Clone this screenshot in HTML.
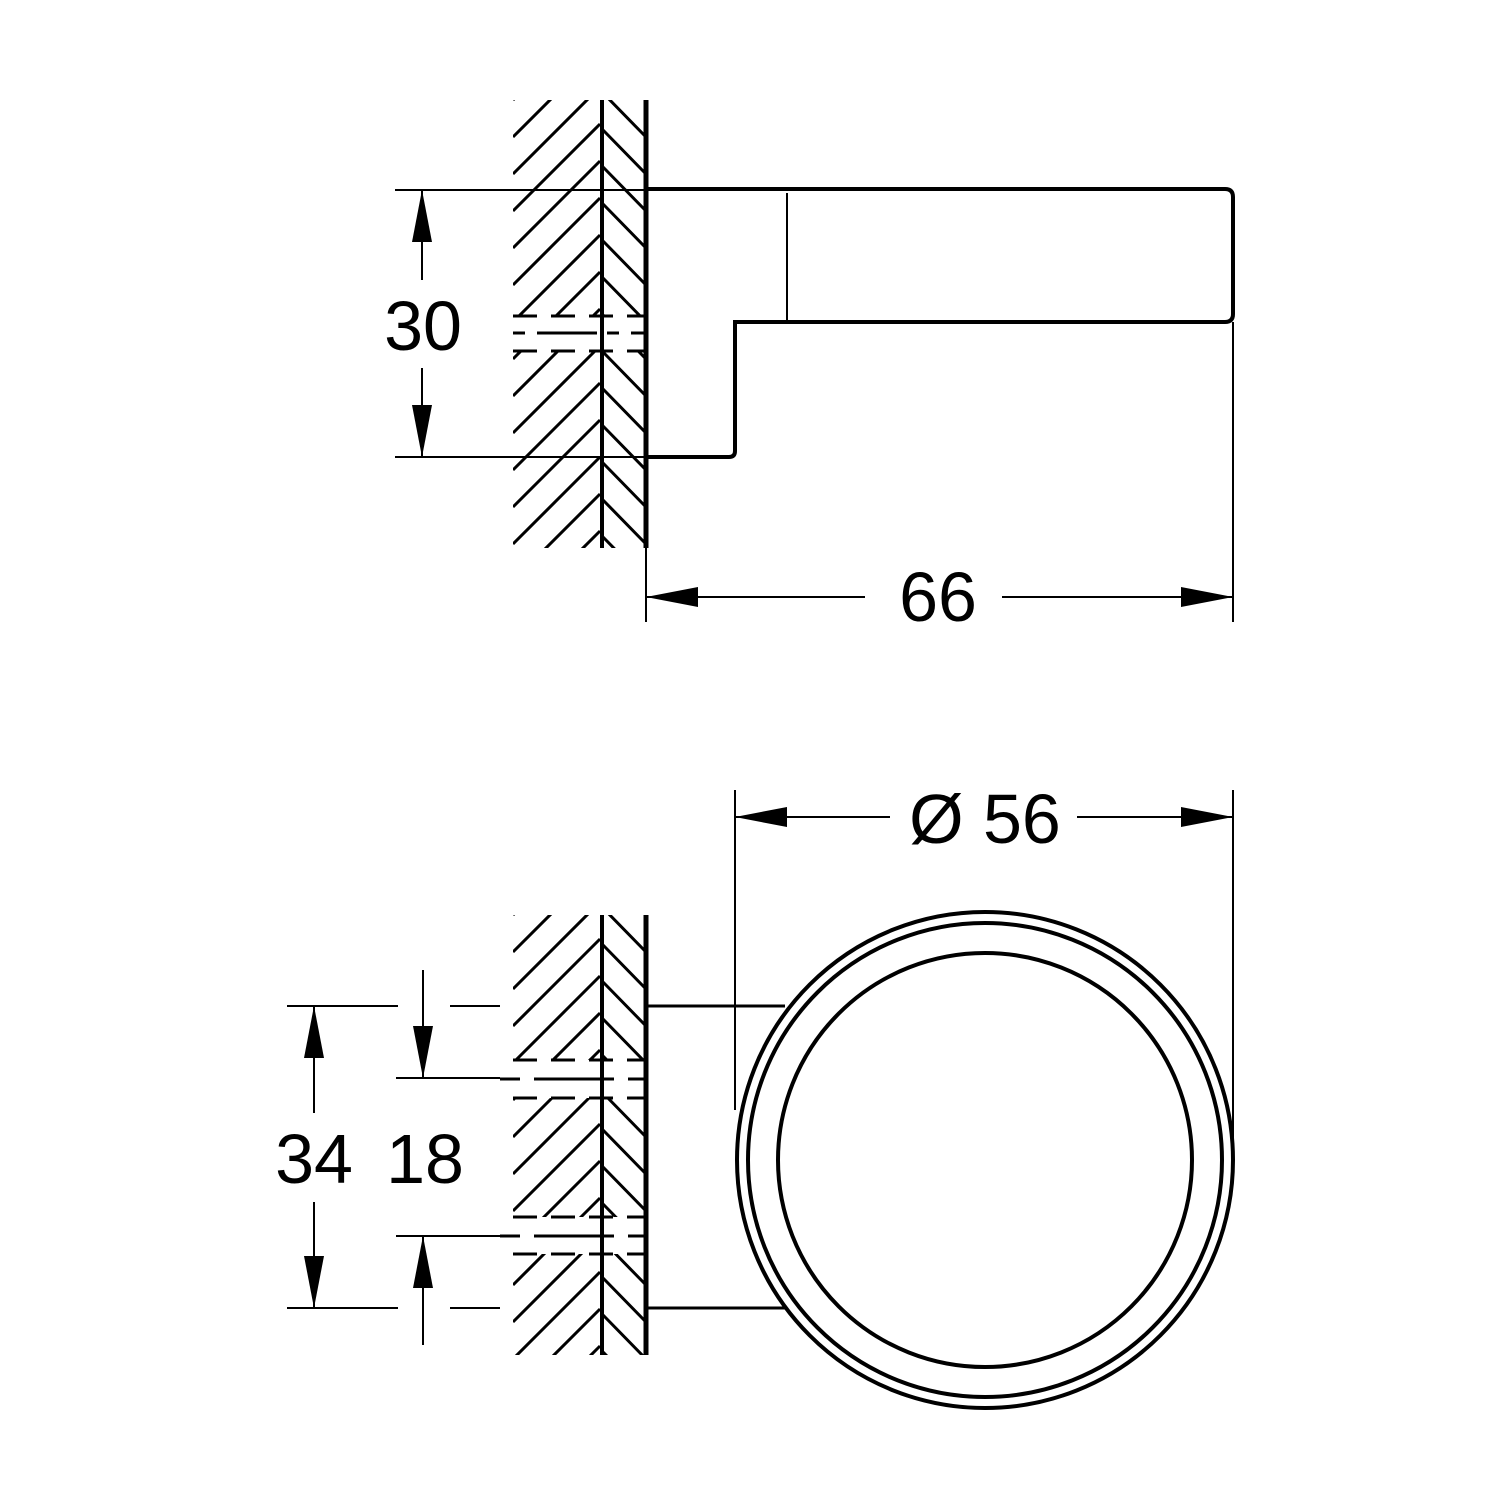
<!DOCTYPE html>
<html><head><meta charset="utf-8"><style>html,body{margin:0;padding:0;background:#fff}svg{display:block}</style></head>
<body>
<svg width="1500" height="1500" viewBox="0 0 1500 1500" xmlns="http://www.w3.org/2000/svg" xmlns:xlink="http://www.w3.org/1999/xlink">
<defs>
<clipPath id="c1">
<rect x="513" y="100" width="87" height="216"/><rect x="513" y="351" width="87" height="197"/>
<rect x="603" y="100" width="43" height="216"/><rect x="603" y="351" width="43" height="197"/>
</clipPath>
<clipPath id="c2">
<rect x="513" y="915" width="87" height="145"/><rect x="513" y="1098" width="87" height="119"/><rect x="513" y="1254" width="87" height="101"/>
<rect x="603" y="915" width="43" height="145"/><rect x="603" y="1098" width="43" height="119"/><rect x="603" y="1254" width="43" height="101"/>
</clipPath>
<g id="hatch" stroke="#000" stroke-width="3" fill="none">
<line x1="513" y1="100" x2="600" y2="13"/><line x1="513" y1="137" x2="600" y2="50"/><line x1="513" y1="174" x2="600" y2="87"/>
<line x1="513" y1="211" x2="600" y2="124"/><line x1="513" y1="248" x2="600" y2="161"/><line x1="513" y1="285" x2="600" y2="198"/>
<line x1="513" y1="322" x2="600" y2="235"/><line x1="513" y1="359" x2="600" y2="272"/><line x1="513" y1="396" x2="600" y2="309"/>
<line x1="513" y1="433" x2="600" y2="346"/><line x1="513" y1="470" x2="600" y2="383"/><line x1="513" y1="507" x2="600" y2="420"/>
<line x1="513" y1="544" x2="600" y2="457"/><line x1="513" y1="581" x2="600" y2="494"/><line x1="513" y1="618" x2="600" y2="531"/>
<line x1="513" y1="655" x2="600" y2="568"/>
<line x1="603" y1="56" x2="646" y2="100"/><line x1="603" y1="93" x2="646" y2="137"/><line x1="603" y1="130" x2="646" y2="174"/>
<line x1="603" y1="167" x2="646" y2="211"/><line x1="603" y1="204" x2="646" y2="248"/><line x1="603" y1="241" x2="646" y2="285"/>
<line x1="603" y1="278" x2="646" y2="322"/><line x1="603" y1="315" x2="646" y2="359"/><line x1="603" y1="352" x2="646" y2="396"/>
<line x1="603" y1="389" x2="646" y2="433"/><line x1="603" y1="426" x2="646" y2="470"/><line x1="603" y1="463" x2="646" y2="507"/>
<line x1="603" y1="500" x2="646" y2="544"/><line x1="603" y1="537" x2="646" y2="581"/>
</g>
<g id="ar"><polygon points="0,0 -10,52 10,52" fill="#000"/></g>
</defs>
<g clip-path="url(#c1)"><use href="#hatch" xlink:href="#hatch"/></g>
<g clip-path="url(#c2)"><use href="#hatch" xlink:href="#hatch" transform="translate(0,815)"/></g>
<g fill="none" stroke="#000" stroke-width="3">
<line x1="602" y1="100" x2="602" y2="548" stroke-width="4"/>
<line x1="646" y1="100" x2="646" y2="548" stroke-width="5"/>
<g stroke-dasharray="24,14"><line x1="513" y1="316" x2="646" y2="316"/><line x1="513" y1="333" x2="646" y2="333" stroke-dasharray="12,12,60,10"/><line x1="513" y1="351" x2="646" y2="351"/></g>
<path d="M646 189 H1225 Q1233 189 1233 197 V314 Q1233 322 1225 322 H735 V451 Q735 457 729 457 H646" stroke-width="4"/>
<line x1="787" y1="193" x2="787" y2="322" stroke-width="2"/>
<line x1="395" y1="190" x2="646" y2="190" stroke-width="2"/>
<line x1="395" y1="457" x2="646" y2="457" stroke-width="2"/>
<line x1="422" y1="190" x2="422" y2="280" stroke-width="2"/>
<line x1="422" y1="368" x2="422" y2="457" stroke-width="2"/>
<line x1="646" y1="548" x2="646" y2="622" stroke-width="2"/>
<line x1="1233" y1="322" x2="1233" y2="622" stroke-width="2"/>
<line x1="646" y1="597" x2="865" y2="597" stroke-width="2"/>
<line x1="1002" y1="597" x2="1233" y2="597" stroke-width="2"/>
<line x1="602" y1="915" x2="602" y2="1355" stroke-width="4"/>
<line x1="646" y1="915" x2="646" y2="1355" stroke-width="5"/>
<g stroke-dasharray="24,14"><line x1="513" y1="1060" x2="646" y2="1060"/><line x1="513" y1="1098" x2="646" y2="1098"/><line x1="513" y1="1217" x2="646" y2="1217"/><line x1="513" y1="1254" x2="646" y2="1254"/></g>
<g stroke-dasharray="20,14,80,14"><line x1="500" y1="1079" x2="646" y2="1079"/><line x1="500" y1="1236" x2="646" y2="1236"/></g>
<line x1="646" y1="1006" x2="785" y2="1006" stroke-width="3"/>
<line x1="646" y1="1308" x2="785" y2="1308" stroke-width="3"/>
<circle cx="985" cy="1160" r="248" stroke-width="4"/>
<circle cx="985" cy="1160" r="237" stroke-width="4"/>
<circle cx="985" cy="1160" r="207" stroke-width="4"/>
<line x1="735" y1="790" x2="735" y2="1110" stroke-width="2"/>
<line x1="1233" y1="790" x2="1233" y2="1160" stroke-width="2"/>
<line x1="735" y1="817" x2="890" y2="817" stroke-width="2"/>
<line x1="1077" y1="817" x2="1233" y2="817" stroke-width="2"/>
<line x1="287" y1="1006" x2="398" y2="1006" stroke-width="2"/>
<line x1="450" y1="1006" x2="500" y2="1006" stroke-width="2"/>
<line x1="287" y1="1308" x2="398" y2="1308" stroke-width="2"/>
<line x1="450" y1="1308" x2="500" y2="1308" stroke-width="2"/>
<line x1="396" y1="1078" x2="500" y2="1078" stroke-width="2"/>
<line x1="396" y1="1236" x2="500" y2="1236" stroke-width="2"/>
<line x1="314" y1="1006" x2="314" y2="1113" stroke-width="2"/>
<line x1="314" y1="1202" x2="314" y2="1308" stroke-width="2"/>
<line x1="423" y1="970" x2="423" y2="1078" stroke-width="2"/>
<line x1="423" y1="1236" x2="423" y2="1345" stroke-width="2"/>
</g>
<use href="#ar" xlink:href="#ar" transform="translate(422,190)"/>
<use href="#ar" xlink:href="#ar" transform="translate(422,457) rotate(180)"/>
<use href="#ar" xlink:href="#ar" transform="translate(646,597) rotate(-90)"/>
<use href="#ar" xlink:href="#ar" transform="translate(1233,597) rotate(90)"/>
<use href="#ar" xlink:href="#ar" transform="translate(735,817) rotate(-90)"/>
<use href="#ar" xlink:href="#ar" transform="translate(1233,817) rotate(90)"/>
<use href="#ar" xlink:href="#ar" transform="translate(314,1006)"/>
<use href="#ar" xlink:href="#ar" transform="translate(314,1308) rotate(180)"/>
<use href="#ar" xlink:href="#ar" transform="translate(423,1078) rotate(180)"/>
<use href="#ar" xlink:href="#ar" transform="translate(423,1236)"/>
<g font-family="Liberation Sans, sans-serif" font-size="70" text-anchor="middle" fill="#000">
<text x="423" y="350">30</text>
<text x="938" y="621">66</text>
<text x="985" y="843">Ø 56</text>
<text x="314" y="1183">34</text>
<text x="425" y="1183">18</text>
</g>
</svg>
</body></html>
